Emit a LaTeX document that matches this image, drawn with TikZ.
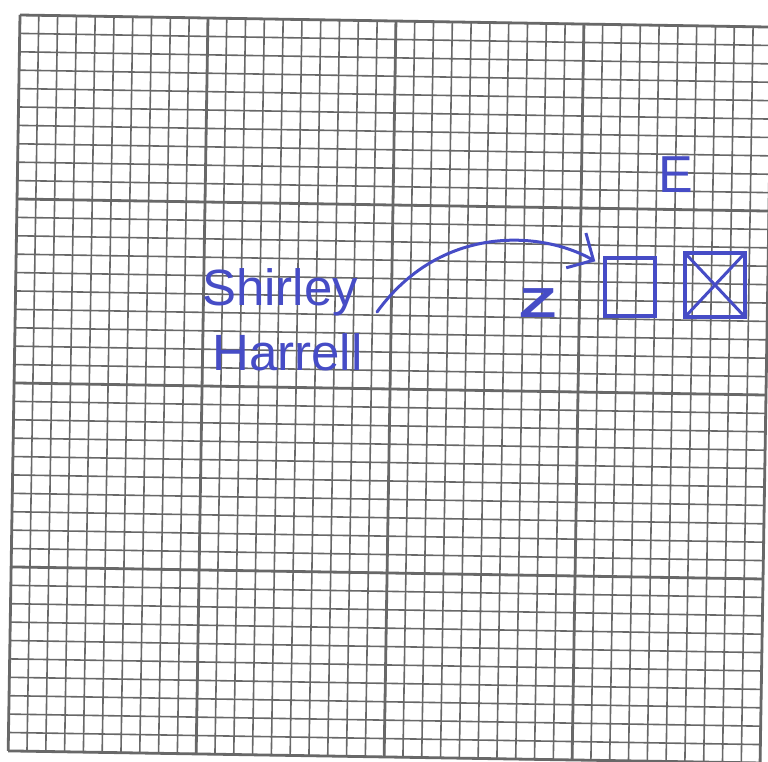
\documentclass[tikz,border=0pt]{standalone}
\usepackage{fontspec}
\usepackage{graphicx}
\setmainfont{Liberation Sans}
\usetikzlibrary{arrows.meta,calc}
\definecolor{ink}{RGB}{70,76,198}
\definecolor{gridc}{RGB}{104,104,104}
\tikzset{
  minorline/.style={draw=gridc,line width=1.6pt},
  majorline/.style={draw=gridc,line width=2.8pt},
  handtext/.style={text=ink,inner sep=0pt,font=\fontsize{51}{54}\selectfont},
  inkbox/.style={draw=ink,line width=3.4pt,inner sep=0pt},
  inkline/.style={draw=ink,line width=3pt,line cap=round,line join=round}
}
\begin{document}
\begin{tikzpicture}[x=1pt,y=-1pt]
\useasboundingbox (0,0) rectangle (768,761);
\fill[white] (0,0) rectangle (768,761);
\begin{scope}
\clip (0,0) rectangle (768,761);
\begin{scope}[shift={(20,15)},rotate=-0.92]
  \foreach \i in {0,...,40} \draw[minorline] (\i*18.8,0) -- (\i*18.8,736);
  \foreach \j in {0,...,40} \draw[minorline] (0,\j*18.4) -- (752,\j*18.4);
  \foreach \i in {0,10,20,30,40} \draw[majorline] (\i*18.8,0) -- (\i*18.8,736);
  \foreach \j in {0,10,20,30,40} \draw[majorline] (0,\j*18.4) -- (752,\j*18.4);
\end{scope}
\end{scope}
\node[handtext,anchor=base west] (shirley) at (202,305) {Shirley};
\node[handtext,anchor=base west] (harrell) at (212,370) {Harrell};
\node[handtext,anchor=base west,font=\fontsize{42}{44}\selectfont\bfseries] (z) at (519,317) {\scalebox{1.45}[1]{Z}};
\node[handtext,anchor=base west,font=\fontsize{52}{54}\selectfont] (e) at (658,192) {E};
\node[inkbox,minimum width=50,minimum height=58] (sq) at (630,287) {};
\node[inkbox,minimum width=60,minimum height=64,
  path picture={\draw[ink,line width=3pt]
    (path picture bounding box.north west) -- (path picture bounding box.south east)
    (path picture bounding box.north east) -- (path picture bounding box.south west);}] (xb) at (715,285) {};
\coordinate (a0) at (377,312);
\draw[inkline,-{Straight Barb[length=20pt,width=40pt]}] (a0) .. controls (440,225) and (540,230) .. ($(sq.north west)+(-8,5)$);
\end{tikzpicture}
\end{document}
